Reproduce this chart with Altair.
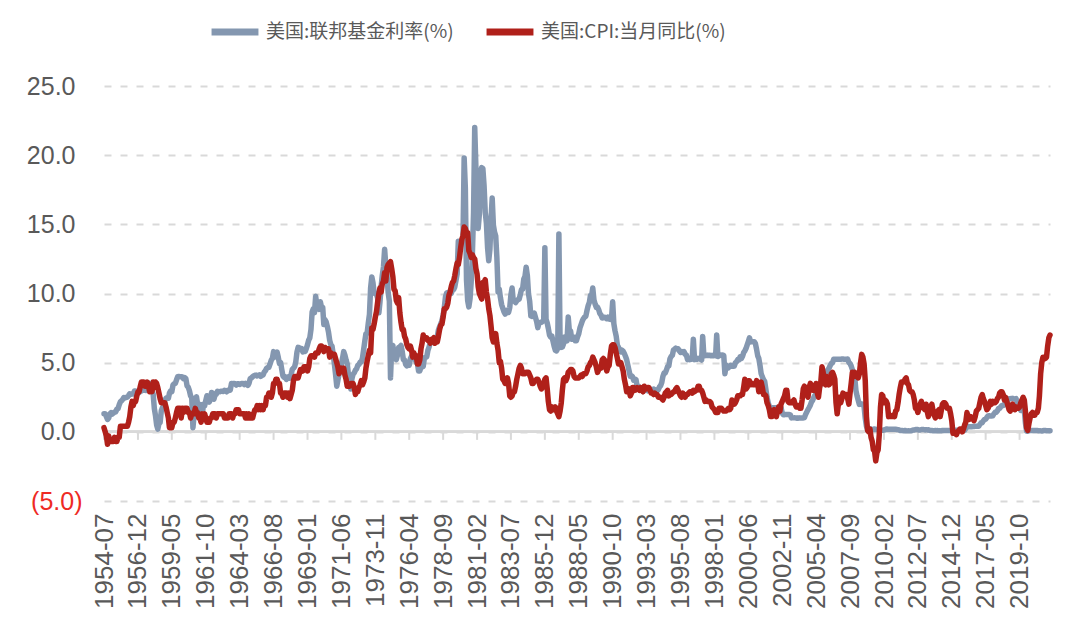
import altair as alt
import pandas as pd

FF_NAME = "美国:联邦基金利率(%)"
CPI_NAME = "美国:CPI:当月同比(%)"
START = "1954-07-01"

# 美国:联邦基金利率(%) monthly, 1954-07 .. 2021-12
ff_rate = [
    1.3, 1.3, 1.1, 0.9, 1.0, 1.3,                                   # 1954 H2
    1.39, 1.29, 1.35, 1.43, 1.43, 1.64, 1.68, 1.96, 2.18, 2.24, 2.35, 2.48,  # 1955
    2.45, 2.50, 2.50, 2.62, 2.75, 2.71, 2.75, 2.73, 2.95, 2.96, 2.88, 2.94,  # 1956
    2.84, 3.00, 2.96, 3.00, 3.00, 3.00, 2.99, 3.24, 3.47, 3.50, 3.28, 2.98,  # 1957
    2.72, 1.67, 1.20, 0.50, 0.20, 0.60, 0.68, 1.53, 1.76, 1.80, 2.27, 2.42,  # 1958
    2.48, 2.43, 2.80, 2.96, 2.90, 3.39, 3.47, 3.50, 3.76, 3.98, 4.00, 3.99,  # 1959
    3.99, 3.97, 3.84, 3.92, 3.85, 3.32, 3.23, 2.98, 2.60, 2.47, 0.30, 1.20,  # 1960
    1.45, 2.54, 2.02, 1.49, 1.98, 1.73, 1.17, 2.00, 1.88, 2.26, 2.61, 2.33,  # 1961
    2.15, 2.37, 2.85, 2.78, 2.36, 2.68, 2.71, 2.93, 2.90, 2.90, 2.94, 2.93,  # 1962
    2.92, 3.00, 2.98, 2.90, 3.00, 2.99, 3.02, 3.49, 3.48, 3.50, 3.48, 3.38,  # 1963
    3.48, 3.48, 3.43, 3.47, 3.50, 3.50, 3.42, 3.50, 3.45, 3.36, 3.52, 3.85,  # 1964
    3.90, 3.98, 4.04, 4.09, 4.10, 4.04, 4.09, 4.12, 4.01, 4.08, 4.10, 4.32,  # 1965
    4.42, 4.60, 4.65, 4.67, 4.90, 5.17, 5.30, 5.80, 5.40, 5.53, 5.76, 5.40,  # 1966
    4.94, 5.00, 4.53, 4.05, 3.94, 3.98, 3.79, 3.90, 3.99, 3.88, 4.13, 4.51,  # 1967
    4.60, 4.71, 5.05, 5.76, 6.11, 6.07, 6.02, 6.03, 5.78, 5.91, 5.82, 6.02,  # 1968
    6.30, 6.64, 6.79, 7.41, 8.67, 8.90, 8.61, 9.80, 9.15, 9.00, 8.85, 9.40,  # 1969
    8.98, 8.98, 7.76, 8.10, 7.95, 7.61, 7.21, 6.61, 6.29, 6.20, 5.60, 4.90,  # 1970
    4.14, 3.30, 3.71, 4.16, 4.63, 4.91, 5.31, 5.80, 5.55, 5.20, 4.91, 4.14,  # 1971
    3.50, 3.10, 3.83, 4.17, 4.27, 4.46, 4.55, 4.80, 4.87, 5.04, 5.06, 5.33,  # 1972
    5.94, 6.58, 7.09, 7.12, 7.84, 8.49, 10.40, 11.20, 10.78, 10.01, 10.03, 9.95,  # 1973
    9.65, 8.60, 9.35, 10.51, 11.31, 11.93, 13.20, 12.01, 11.34, 10.06, 9.45, 3.90,  # 1974
    6.10, 6.24, 5.54, 5.49, 5.22, 5.55, 6.10, 6.14, 6.24, 5.82, 5.22, 5.20,  # 1975
    4.87, 4.77, 4.84, 4.82, 5.29, 5.48, 5.31, 5.29, 5.25, 5.02, 4.95, 4.40,  # 1976
    4.40, 4.68, 4.69, 4.73, 5.35, 5.39, 5.42, 5.90, 6.14, 6.47, 6.51, 6.56,  # 1977
    6.70, 6.78, 6.79, 6.89, 7.36, 7.60, 7.81, 8.04, 8.45, 8.96, 9.76, 10.03,  # 1978
    10.07, 10.06, 10.09, 10.01, 10.24, 10.29, 10.47, 10.94, 11.43, 13.77, 13.18, 13.78,  # 1979
    13.82, 14.13, 19.80, 17.61, 10.98, 9.47, 9.03, 9.61, 10.87, 12.81, 15.85, 22.00,  # 1980
    19.08, 15.93, 14.70, 15.72, 18.80, 19.10, 19.04, 17.82, 15.87, 15.08, 13.31, 12.37,  # 1981
    13.22, 15.50, 16.90, 14.94, 14.45, 14.15, 12.59, 10.12, 10.31, 9.71, 9.20, 8.95,  # 1982
    8.68, 8.51, 8.77, 8.80, 8.63, 8.98, 9.90, 10.40, 9.45, 9.48, 9.34, 9.47,  # 1983
    9.56, 9.59, 9.91, 10.29, 10.32, 11.06, 11.23, 11.90, 11.30, 9.99, 9.43, 8.38,  # 1984
    8.35, 8.50, 8.58, 8.27, 7.97, 7.53, 7.88, 7.90, 7.92, 7.99, 8.05, 13.30,  # 1985
    8.14, 7.86, 7.48, 6.99, 6.85, 6.92, 6.56, 6.17, 5.89, 5.85, 6.04, 14.30,  # 1986
    6.43, 6.10, 6.13, 6.37, 6.85, 6.73, 6.58, 8.30, 7.22, 7.29, 6.69, 6.77,  # 1987
    6.83, 6.58, 6.58, 6.87, 7.09, 7.51, 7.75, 8.01, 8.19, 8.30, 8.35, 8.76,  # 1988
    9.12, 9.36, 9.85, 9.84, 10.40, 9.53, 9.24, 8.99, 9.02, 8.84, 8.55, 8.45,  # 1989
    8.23, 8.24, 8.28, 8.26, 8.18, 8.29, 8.15, 8.13, 8.20, 9.40, 7.81, 7.31,  # 1990
    6.91, 6.25, 6.12, 5.91, 5.78, 5.90, 5.82, 5.66, 5.45, 5.21, 4.81, 4.43,  # 1991
    4.03, 4.06, 3.98, 3.73, 3.82, 3.76, 3.25, 3.30, 3.22, 3.10, 3.09, 2.92,  # 1992
    3.02, 3.03, 3.07, 2.96, 3.00, 3.04, 3.06, 3.03, 3.09, 2.99, 3.02, 2.96,  # 1993
    3.05, 3.25, 3.34, 3.56, 4.01, 4.25, 4.26, 4.47, 4.73, 4.76, 5.29, 5.45,  # 1994
    5.53, 5.92, 5.98, 6.05, 6.01, 6.00, 5.85, 5.74, 5.80, 5.76, 5.80, 5.60,  # 1995
    5.56, 5.22, 5.31, 5.22, 5.24, 5.27, 6.70, 5.22, 5.30, 5.24, 5.31, 5.29,  # 1996
    5.25, 5.19, 6.90, 5.51, 5.50, 5.56, 5.52, 5.54, 5.54, 5.50, 5.52, 5.50,  # 1997
    5.56, 5.51, 7.00, 5.45, 5.49, 5.56, 5.54, 5.55, 5.51, 4.20, 4.83, 4.68,  # 1998
    4.63, 4.76, 4.81, 4.74, 4.74, 4.76, 4.99, 5.07, 5.22, 5.20, 5.42, 5.30,  # 1999
    5.45, 5.73, 5.85, 6.02, 6.27, 6.53, 6.80, 6.50, 6.52, 6.51, 6.51, 6.40,  # 2000
    5.98, 5.49, 5.31, 4.80, 4.21, 3.97, 3.77, 3.65, 3.07, 2.49, 2.09, 1.82,  # 2001
    1.73, 1.74, 1.73, 1.75, 1.75, 1.75, 1.73, 1.74, 1.75, 1.75, 1.34, 1.24,  # 2002
    1.24, 1.26, 1.25, 1.26, 1.26, 1.22, 1.01, 1.03, 1.01, 1.01, 1.00, 0.98,  # 2003
    1.00, 1.01, 1.00, 1.00, 1.00, 1.03, 1.26, 1.43, 1.61, 1.76, 1.93, 2.16,  # 2004
    2.28, 2.50, 2.63, 2.79, 3.00, 3.04, 3.26, 3.50, 3.62, 3.78, 4.00, 4.16,  # 2005
    4.29, 4.49, 4.59, 4.79, 4.94, 4.99, 5.24, 5.25, 5.25, 5.25, 5.25, 5.24,  # 2006
    5.25, 5.26, 5.26, 5.25, 5.25, 5.25, 5.26, 5.02, 4.94, 4.76, 4.49, 4.24,  # 2007
    3.94, 2.98, 2.61, 2.28, 1.98, 2.00, 2.01, 2.00, 1.81, 0.97, 0.39, 0.16,  # 2008
    0.15, 0.22, 0.18, 0.15, 0.18, 0.21, 0.16, 0.16, 0.15, 0.12, 0.12, 0.12,  # 2009
    0.11, 0.13, 0.16, 0.20, 0.20, 0.18, 0.18, 0.19, 0.19, 0.19, 0.19, 0.18,  # 2010
    0.17, 0.16, 0.14, 0.10, 0.09, 0.09, 0.07, 0.10, 0.08, 0.07, 0.08, 0.07,  # 2011
    0.08, 0.10, 0.13, 0.14, 0.16, 0.16, 0.16, 0.13, 0.14, 0.16, 0.16, 0.16,  # 2012
    0.14, 0.15, 0.14, 0.15, 0.11, 0.09, 0.09, 0.08, 0.08, 0.09, 0.08, 0.09,  # 2013
    0.07, 0.07, 0.08, 0.09, 0.09, 0.10, 0.09, 0.09, 0.09, 0.09, 0.09, 0.12,  # 2014
    0.11, 0.11, 0.11, 0.12, 0.12, 0.13, 0.13, 0.14, 0.14, 0.12, 0.12, 0.24,  # 2015
    0.34, 0.38, 0.36, 0.37, 0.37, 0.38, 0.39, 0.40, 0.40, 0.40, 0.41, 0.54,  # 2016
    0.65, 0.66, 0.79, 0.90, 0.91, 1.04, 1.15, 1.16, 1.15, 1.15, 1.16, 1.30,  # 2017
    1.41, 1.42, 1.51, 1.69, 1.70, 1.82, 1.91, 1.91, 1.95, 2.19, 2.20, 2.27,  # 2018
    2.40, 2.40, 2.41, 2.42, 2.39, 2.38, 2.40, 2.13, 2.04, 1.83, 1.55, 1.55,  # 2019
    1.55, 1.58, 0.65, 0.05, 0.05, 0.08, 0.09, 0.10, 0.09, 0.09, 0.09, 0.09,  # 2020
    0.09, 0.08, 0.07, 0.07, 0.06, 0.08, 0.10, 0.09, 0.08, 0.08, 0.08, 0.08,  # 2021
]

# 美国:CPI:当月同比(%) monthly, 1954-07 .. 2021-12
cpi_yoy = [
    0.3, 0.0, -0.3, -0.9, -0.3, -0.7,                                # 1954 H2
    -0.7, -0.7, -0.7, -0.4, -0.7, -0.7, -0.4, -0.4, 0.4, 0.4, 0.4, 0.4,  # 1955
    0.4, 0.4, 0.4, 0.7, 1.1, 1.8, 2.2, 1.9, 2.2, 2.2, 2.6, 2.9,      # 1956
    2.9, 3.3, 3.6, 3.6, 3.6, 3.3, 3.3, 3.6, 3.3, 2.9, 3.2, 2.9,      # 1957
    3.6, 3.2, 3.6, 3.5, 3.2, 2.8, 2.4, 2.1, 2.1, 2.1, 2.1, 1.8,      # 1958
    1.4, 1.0, 0.3, 0.3, 0.3, 0.7, 0.7, 1.0, 1.4, 1.7, 1.7, 1.7,      # 1959
    1.0, 1.7, 1.4, 1.7, 1.7, 1.7, 1.4, 1.4, 1.0, 1.3, 1.3, 1.3,      # 1960
    1.7, 1.4, 1.4, 1.0, 1.0, 0.7, 1.3, 1.0, 1.3, 1.0, 0.7, 0.7,      # 1961
    0.7, 1.0, 1.0, 1.3, 1.3, 1.3, 1.0, 1.3, 1.3, 1.3, 1.3, 1.3,      # 1962
    1.3, 1.0, 1.0, 1.0, 1.0, 1.3, 1.3, 1.3, 1.0, 1.3, 1.3, 1.6,      # 1963
    1.6, 1.6, 1.3, 1.3, 1.3, 1.3, 1.3, 1.0, 1.3, 1.0, 1.3, 1.0,      # 1964
    1.0, 1.0, 1.3, 1.6, 1.6, 1.9, 1.6, 1.9, 1.6, 1.9, 1.6, 1.9,      # 1965
    1.9, 2.5, 2.5, 2.8, 2.8, 2.5, 2.8, 3.5, 3.5, 3.8, 3.8, 3.5,      # 1966
    3.5, 2.8, 2.8, 2.5, 2.8, 2.8, 2.8, 2.5, 2.8, 2.4, 2.7, 3.0,      # 1967
    3.7, 4.0, 4.0, 3.9, 3.9, 4.2, 4.5, 4.5, 4.4, 4.7, 4.7, 4.7,      # 1968
    4.4, 4.7, 5.3, 5.5, 5.5, 5.5, 5.4, 5.7, 5.7, 5.7, 6.0, 6.2,      # 1969
    6.2, 6.1, 5.8, 6.1, 6.0, 6.0, 6.0, 5.4, 5.7, 5.6, 5.6, 5.6,      # 1970
    5.3, 5.0, 4.7, 4.2, 4.4, 4.6, 4.4, 4.6, 4.1, 3.8, 3.3, 3.3,      # 1971
    3.3, 3.5, 3.5, 3.5, 3.2, 2.7, 2.9, 2.9, 3.2, 3.4, 3.7, 3.4,      # 1972
    3.6, 3.9, 4.6, 5.1, 5.5, 5.9, 5.7, 7.5, 7.4, 7.8, 8.3, 8.7,      # 1973
    9.4, 10.0, 10.4, 10.1, 10.7, 10.9, 11.5, 10.9, 11.9, 12.1, 12.2, 12.3,  # 1974
    11.8, 11.2, 10.3, 10.2, 9.5, 9.3, 9.7, 8.6, 7.9, 7.4, 7.4, 6.9,  # 1975
    6.7, 6.3, 6.1, 6.0, 6.2, 5.9, 5.4, 5.7, 5.5, 5.5, 4.9, 4.9,      # 1976
    5.2, 6.0, 6.4, 7.0, 6.7, 6.8, 6.8, 6.6, 6.6, 6.4, 6.7, 6.7,      # 1977
    6.8, 6.4, 6.6, 6.5, 6.9, 7.4, 7.7, 7.8, 8.3, 8.9, 8.9, 9.0,      # 1978
    9.3, 9.9, 10.1, 10.5, 10.8, 10.9, 11.3, 11.8, 12.2, 12.1, 12.6, 13.3,  # 1979
    13.9, 14.2, 14.8, 14.7, 14.4, 14.4, 13.1, 12.9, 12.6, 12.8, 12.6, 12.5,  # 1980
    11.8, 11.4, 10.5, 10.0, 9.8, 9.6, 10.8, 10.8, 11.0, 10.1, 9.6, 8.9,  # 1981
    8.4, 7.6, 6.8, 6.5, 6.7, 7.1, 6.4, 5.9, 5.0, 5.1, 4.6, 3.8,      # 1982
    3.7, 3.5, 3.6, 3.9, 3.5, 2.6, 2.5, 2.6, 2.9, 2.9, 3.3, 3.8,      # 1983
    4.2, 4.6, 4.8, 4.6, 4.2, 4.2, 4.2, 4.3, 4.3, 4.3, 4.1, 3.9,      # 1984
    3.5, 3.5, 3.7, 3.7, 3.8, 3.8, 3.6, 3.3, 3.1, 3.2, 3.5, 3.8,      # 1985
    3.9, 3.1, 2.2, 1.6, 1.5, 1.8, 1.6, 1.6, 1.8, 1.5, 1.3, 1.1,      # 1986
    1.5, 2.1, 3.0, 3.8, 3.9, 3.7, 3.9, 4.3, 4.4, 4.5, 4.5, 4.4,      # 1987
    4.0, 3.9, 3.9, 3.9, 3.9, 4.0, 4.1, 4.0, 4.2, 4.2, 4.2, 4.4,      # 1988
    4.7, 4.8, 5.0, 5.1, 5.4, 5.2, 5.0, 4.7, 4.3, 4.5, 4.7, 4.6,      # 1989
    5.2, 5.3, 5.2, 4.7, 4.4, 4.7, 4.8, 5.6, 6.2, 6.3, 6.3, 6.1,      # 1990
    5.7, 5.3, 4.9, 4.9, 5.0, 4.7, 4.4, 3.8, 3.4, 2.9, 3.0, 3.1,      # 1991
    2.6, 2.8, 3.2, 3.2, 3.0, 3.1, 3.2, 3.1, 3.0, 3.2, 3.0, 2.9,      # 1992
    3.3, 3.2, 3.1, 3.2, 3.2, 3.0, 2.8, 2.8, 2.7, 2.8, 2.7, 2.7,      # 1993
    2.5, 2.5, 2.5, 2.4, 2.3, 2.5, 2.8, 2.9, 3.0, 2.6, 2.7, 2.7,      # 1994
    2.8, 2.9, 2.9, 3.1, 3.2, 3.0, 2.8, 2.6, 2.5, 2.8, 2.6, 2.5,      # 1995
    2.7, 2.7, 2.8, 2.9, 2.9, 2.8, 3.0, 2.9, 3.0, 3.0, 3.3, 3.3,      # 1996
    3.0, 3.0, 2.8, 2.5, 2.2, 2.3, 2.2, 2.2, 2.2, 2.1, 1.8, 1.7,      # 1997
    1.6, 1.4, 1.4, 1.4, 1.7, 1.7, 1.7, 1.6, 1.5, 1.5, 1.5, 1.6,      # 1998
    1.7, 1.6, 1.7, 2.3, 2.1, 2.0, 2.1, 2.3, 2.6, 2.6, 2.6, 2.7,      # 1999
    2.7, 3.2, 3.8, 3.1, 3.2, 3.7, 3.7, 3.4, 3.5, 3.4, 3.4, 3.4,      # 2000
    3.7, 3.5, 2.9, 3.3, 3.6, 3.2, 2.7, 2.7, 2.6, 2.1, 1.9, 1.6,      # 2001
    1.1, 1.1, 1.5, 1.6, 1.2, 1.1, 1.5, 1.8, 1.5, 2.0, 2.2, 2.4,      # 2002
    2.6, 3.0, 3.0, 2.2, 2.1, 2.1, 2.1, 2.2, 2.3, 2.0, 1.8, 1.9,      # 2003
    1.9, 1.7, 1.7, 2.3, 3.1, 3.3, 3.0, 2.7, 2.5, 3.2, 3.5, 3.3,      # 2004
    3.0, 3.0, 3.1, 3.5, 2.8, 2.5, 3.2, 3.6, 4.7, 4.3, 3.5, 3.4,      # 2005
    4.0, 3.6, 3.4, 3.5, 4.2, 4.3, 4.1, 3.8, 2.1, 1.3, 2.0, 2.5,      # 2006
    2.1, 2.4, 2.8, 2.6, 2.7, 2.7, 2.4, 2.0, 2.8, 3.5, 4.3, 4.1,      # 2007
    4.3, 4.0, 4.0, 3.9, 4.2, 5.0, 5.6, 5.4, 4.9, 3.7, 1.1, 0.1,      # 2008
    0.0, 0.2, -0.4, -0.7, -1.3, -1.4, -2.1, -1.5, -1.3, -0.2, 1.8, 2.7,  # 2009
    2.6, 2.1, 2.3, 2.2, 2.0, 1.1, 1.2, 1.1, 1.1, 1.2, 1.1, 1.5,      # 2010
    1.6, 2.1, 2.7, 3.2, 3.6, 3.6, 3.6, 3.8, 3.9, 3.5, 3.4, 3.0,      # 2011
    2.9, 2.9, 2.7, 2.3, 1.7, 1.7, 1.4, 1.7, 2.0, 2.2, 1.8, 1.7,      # 2012
    1.6, 2.0, 1.5, 1.1, 1.4, 1.8, 2.0, 1.5, 1.2, 1.0, 1.2, 1.5,      # 2013
    1.6, 1.1, 1.5, 2.0, 2.1, 2.1, 2.0, 1.7, 1.7, 1.7, 1.3, 0.8,      # 2014
    -0.1, 0.0, -0.1, -0.2, 0.0, 0.1, 0.2, 0.2, 0.0, 0.2, 0.5, 0.7,   # 2015
    1.4, 1.0, 0.9, 1.1, 1.0, 1.0, 0.8, 1.1, 1.5, 1.6, 1.7, 2.1,      # 2016
    2.5, 2.7, 2.4, 2.2, 1.9, 1.6, 1.7, 1.9, 2.2, 2.0, 2.2, 2.1,      # 2017
    2.1, 2.2, 2.4, 2.5, 2.8, 2.9, 2.9, 2.7, 2.3, 2.5, 2.2, 1.9,      # 2018
    1.6, 1.5, 1.9, 2.0, 1.8, 1.6, 1.8, 1.7, 1.7, 1.8, 2.1, 2.3,      # 2019
    2.5, 2.3, 1.5, 0.3, 0.1, 0.6, 1.0, 1.3, 1.4, 1.2, 1.2, 1.4,      # 2020
    1.4, 1.7, 2.6, 4.2, 5.0, 5.4, 5.4, 5.3, 5.4, 6.2, 6.8, 7.0,      # 2021
]

tick_labels = [
    "1954-07", "1956-12", "1959-05", "1961-10", "1964-03", "1966-08", "1969-01",
    "1971-06", "1973-11", "1976-04", "1978-09", "1981-02", "1983-07", "1985-12",
    "1988-05", "1990-10", "1993-03", "1995-08", "1998-01", "2000-06", "2002-11",
    "2005-04", "2007-09", "2010-02", "2012-07", "2014-12", "2017-05", "2019-10",
]
y_ticks = [-5, 0, 5, 10, 15, 20, 25]

GRAY = "#8497B0"
RED = "#B0201A"
TEXT = "#595959"
GRID = "#D9D9D9"
FONT = "Liberation Sans"
CJK = "Noto Sans CJK SC"

W, H = 946, 415


def series_frame(values, name):
    dates = pd.date_range(START, periods=len(values), freq="MS").strftime("%Y-%m-%d")
    return pd.DataFrame({"date": dates, "value": values, "series": name})


df = pd.concat([series_frame(ff_rate, FF_NAME), series_frame(cpi_yoy, CPI_NAME)],
               ignore_index=True)
ticks_df = pd.DataFrame({"date": [t + "-01" for t in tick_labels]})


def dt(label):
    y, m = label.split("-")
    return alt.DateTime(year=int(y), month=int(m), date=1, utc=True)


x_scale = alt.Scale(type="utc", domain=[dt("1954-07"), dt("2021-12")])
y_scale = alt.Scale(domain=[-5, 25], nice=False, zero=False)

x_axis = alt.Axis(
    values=[dt(t) for t in tick_labels],
    labelExpr="utcFormat(datum.value, '%Y-%m')",
    labelAngle=270, labelFontSize=26, labelFont=FONT, labelColor=TEXT,
    labelPadding=12, labelOverlap=False, labelFlush=False, labelBound=False,
    domain=False, ticks=False, grid=False, title=None,
)
y_axis = alt.Axis(
    values=y_ticks, title=None, domain=False, ticks=False,
    labelFontSize=25, labelFont=FONT,
    labelPadding=alt.condition("datum.value < 0", alt.value(22), alt.value(29)),
    labelColor=alt.condition("datum.value < 0", alt.value("#EE2A24"), alt.value(TEXT)),
    labelExpr="datum.value < 0 ? '(' + format(-datum.value, '.1f') + ')' : format(datum.value, '.1f')",
    grid=True, gridColor=GRID, gridDash=[7, 9], gridWidth=2,
)

color = alt.Color(
    "series:N",
    scale=alt.Scale(domain=[FF_NAME, CPI_NAME], range=[GRAY, RED]),
    legend=alt.Legend(
        title=None, orient="none", legendX=104, legendY=-81, direction="horizontal",
        symbolType="stroke", symbolStrokeWidth=7, symbolSize=2200,
        labelFont=CJK, labelFontSize=19, labelColor=TEXT, labelLimit=600,
        labelOffset=4, columnPadding=18,
    ),
)

base = alt.Chart(df).encode(
    x=alt.X("date:T", scale=x_scale, axis=x_axis),
    y=alt.Y("value:Q", scale=y_scale, axis=y_axis),
    color=color,
)

ff_line = base.transform_filter(alt.datum.series == FF_NAME).mark_line(
    strokeWidth=5.5, strokeJoin="round", strokeCap="round")
cpi_line = base.transform_filter(alt.datum.series == CPI_NAME).mark_line(
    strokeWidth=5.5, strokeJoin="round", strokeCap="round")

zero_line = alt.Chart(df).mark_rule(color=GRID, strokeWidth=2).encode(
    y=alt.datum(0), x=alt.value(0), x2=alt.value(W))

tick_marks = alt.Chart(ticks_df).mark_rule(color=GRID, strokeWidth=2).encode(
    x=alt.X("date:T", scale=x_scale, axis=x_axis),
    y=alt.datum(0), y2=alt.datum(-0.58))

chart = alt.layer(zero_line, tick_marks, ff_line, cpi_line).properties(
    width=W, height=H,
    autosize=alt.AutoSizeParams(type="none"),
    padding={"left": 96, "top": 78, "right": 22, "bottom": 121},
    background="white",
).configure_view(stroke=None)

chart.save("out.html", embed_options={"renderer": "svg", "actions": False})
